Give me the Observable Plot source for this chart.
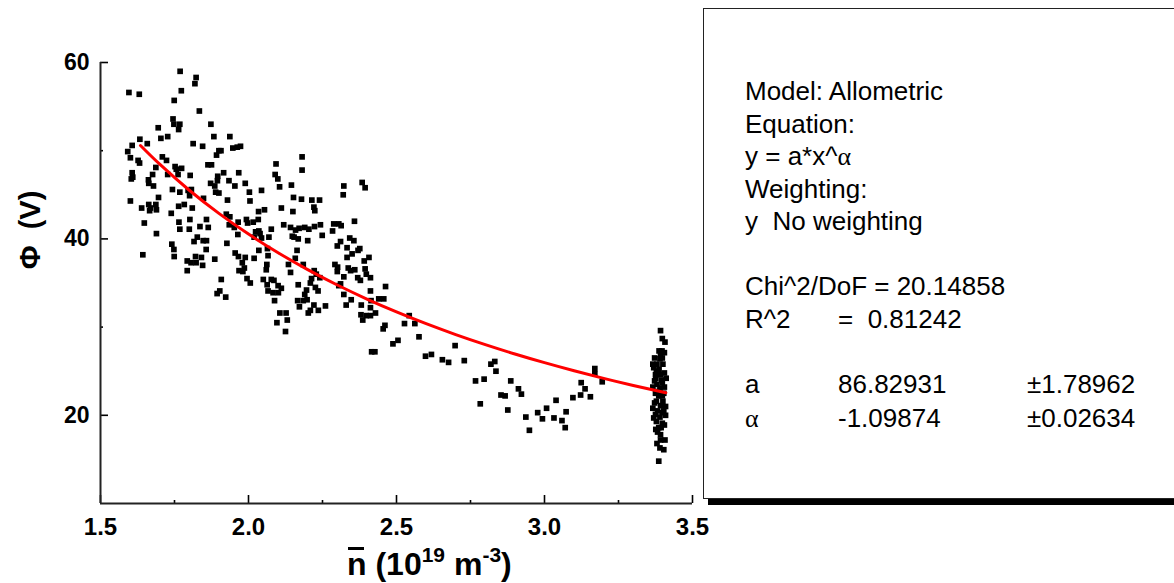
<!DOCTYPE html>
<html>
<head>
<meta charset="utf-8">
<script src="https://cdn.jsdelivr.net/npm/d3@7"></script>
<script src="https://cdn.jsdelivr.net/npm/@observablehq/plot@0.6"></script>
<style>
  html, body { margin: 0; padding: 0; background: #fff; overflow: hidden; }
  #wrap { position: relative; width: 1174px; height: 583px; font-family: "Liberation Sans", Arial, sans-serif; color: #000; }
  #wrap svg { position: absolute; left: 0; top: 0; }
  .ytitle { position: absolute; left: 30px; top: 230px; transform: translate(-50%, -50%) rotate(-90deg); font-weight: bold; font-size: 29px; white-space: pre; }
  .xtitle { position: absolute; left: 347px; top: 548px; font-weight: bold; font-size: 32px; line-height: 32px; white-space: pre; }
  .xtitle sup { font-size: 21px; vertical-align: 0; position: relative; top: -13px; }
  .nbar { position: relative; display: inline-block; }
  .nbar::before { content: ""; position: absolute; left: 1px; right: 3px; top: -1px; height: 3px; background: #000; }
  .box { position: absolute; left: 703px; top: 8px; width: 520px; height: 489px; border: 1.5px solid #222; box-shadow: 5px 6px 0 0 #000; background: #fff; }
  .ln { position: absolute; font-size: 26px; line-height: 26px; white-space: pre; }
  .greek { font-family: "Liberation Serif", "DejaVu Serif", serif; }
</style>
</head>
<body>
<div id="wrap"></div>
<script>
// ---- data ----
const nBar = [
1.596,1.631,1.769,1.823,1.819,1.773,1.749,1.834,1.745,1.748,1.768,1.764,1.695,1.873,1.883,1.937,1.727,1.704,1.633,1.658,
1.607,1.813,1.845,1.947,1.962,1.973,1.907,1.592,1.627,1.601,1.632,1.709,1.723,1.687,1.752,1.774,1.756,1.727,1.762,1.676,
1.803,1.863,1.875,1.892,1.900,1.967,1.916,1.896,1.895,1.934,1.954,1.989,2.044,2.003,2.005,1.929,2.093,2.090,2.099,2.105,
2.145,2.181,2.181,1.889,1.900,1.886,1.607,1.609,1.604,1.662,1.679,1.663,1.696,1.743,1.768,1.796,1.807,1.801,1.601,1.639,
1.663,1.669,1.689,1.666,1.687,1.739,1.764,1.783,1.810,1.848,1.872,2.034,2.054,2.111,2.152,2.150,2.179,2.214,2.221,2.224,
2.240,1.648,1.689,1.765,1.768,1.802,1.800,1.836,1.858,1.864,1.816,1.827,1.847,1.858,1.925,1.937,1.935,1.965,1.952,1.964,
1.993,1.997,2.016,2.033,2.024,2.035,2.039,2.019,2.044,2.069,2.077,2.119,2.142,2.148,2.159,2.154,2.171,2.168,2.190,2.204,
2.200,2.223,2.243,2.249,2.284,2.288,2.305,2.313,2.358,2.300,2.311,2.333,2.342,2.356,2.370,2.376,2.350,2.333,2.320,2.322,
2.384,2.394,2.407,2.463,1.741,1.748,1.749,1.643,1.793,1.821,1.806,1.823,1.845,1.841,1.886,1.857,1.793,1.927,1.955,1.966,
1.989,1.979,1.986,1.968,1.981,1.995,2.006,2.019,2.035,2.064,2.066,2.062,2.060,2.050,2.063,2.077,2.086,2.066,2.083,2.100,
2.101,2.111,2.135,2.142,2.158,2.164,2.185,2.213,2.229,2.222,2.209,2.226,2.241,2.196,2.190,2.168,2.198,2.235,2.292,2.301,
2.300,2.322,2.337,2.345,2.359,2.369,2.378,2.394,2.398,2.391,2.412,2.305,2.322,2.311,2.412,2.440,2.457,1.908,1.923,1.903,
1.894,
2.088,2.106,2.127,2.096,2.131,2.125,2.166,2.185,2.172,2.202,2.209,2.221,2.236,2.260,2.330,2.347,2.381,2.380,2.386,2.398,
2.412,2.429,2.412,2.414,2.461,2.455,2.416,2.427,2.488,2.505,
2.527,2.543,2.562,2.576,2.598,2.618,2.655,2.676,2.698,2.729,2.767,2.796,2.783,2.819,2.832,2.836,2.853,2.867,2.876,2.886,
2.912,2.922,2.937,2.949,2.977,2.993,3.007,3.032,3.039,3.059,3.070,3.073,3.096,3.122,3.124,3.137,3.155,3.170,3.170,3.195,
3.392,3.398,3.407,3.387,3.392,3.390,3.398,3.366,3.369,3.380,3.400,3.387,3.375,3.392,3.411,3.372,3.380,3.398,3.390,3.375,
3.403,3.386,3.378,3.400,3.392,3.366,3.382,3.403,3.375,3.409,3.390,3.378,3.398,3.386,3.382,3.392,3.407,3.392,3.380,3.403,
3.386,3.372,3.405,3.376,3.405,3.395,3.366,3.405,3.398,3.372,3.409,3.398,3.369,3.394,3.376,3.390,3.397,3.380,3.405,3.378
];
const phi = [
56.6,56.4,59.0,58.3,57.6,56.8,55.7,54.5,53.6,53.0,53.0,52.4,52.6,53.0,51.6,51.6,51.6,51.4,51.3,50.8,
50.6,50.8,50.5,50.3,50.4,50.5,50.0,49.9,48.9,49.2,48.6,49.3,48.9,48.1,48.2,48.0,47.9,47.3,47.3,47.3,
47.2,48.4,48.4,49.5,50.0,47.5,47.5,47.1,46.6,46.6,46.0,46.3,45.5,45.3,44.3,44.4,48.5,47.3,46.8,45.9,
46.1,49.3,47.8,45.3,45.2,46.0,47.5,47.0,46.8,46.7,46.0,46.3,44.7,45.6,45.3,45.5,45.6,44.9,44.3,43.5,
43.9,43.5,43.3,43.2,43.9,42.9,43.7,43.9,43.5,44.6,46.3,43.1,43.3,43.5,44.7,43.1,44.5,44.4,43.6,43.2,
44.4,41.8,40.6,41.9,41.1,42.2,41.1,41.4,42.2,41.3,39.7,40.2,39.8,39.8,42.8,42.5,41.6,41.9,41.3,40.5,
42.2,41.8,41.9,42.2,40.8,40.9,40.6,40.2,40.1,40.2,41.1,41.6,41.3,40.3,41.0,40.2,41.2,40.0,41.3,41.1,
39.8,41.4,41.6,40.4,40.9,41.7,41.7,41.5,42.0,39.2,39.7,39.0,40.1,39.8,38.7,38.9,38.3,37.9,45.0,46.0,
46.4,45.8,37.9,34.6,39.4,38.8,38.0,38.2,37.5,38.0,37.3,37.3,37.0,37.9,37.7,38.8,36.4,39.5,38.4,38.0,
37.9,37.3,36.7,36.4,36.3,35.5,35.0,37.8,38.7,38.9,38.1,37.1,36.5,35.4,34.8,35.4,35.3,34.1,33.9,34.7,
33.9,34.4,37.1,36.2,37.8,38.7,37.1,35.5,36.0,36.4,35.0,34.5,35.6,34.2,33.7,34.8,33.1,34.1,37.1,36.8,
36.3,35.7,36.7,36.4,36.5,35.6,35.3,36.6,36.0,37.5,35.6,34.7,33.7,34.9,34.1,33.2,33.2,35.4,33.4,34.1,
33.8,
33.0,31.6,31.6,30.5,30.8,29.5,33.0,33.0,32.3,31.6,31.9,32.5,31.9,32.4,32.5,33.1,32.5,31.4,30.8,31.3,
31.3,31.6,32.2,33.0,30.2,29.8,27.2,27.2,28.1,28.5,
30.4,31.3,30.4,28.9,26.7,26.9,26.3,26.0,27.9,26.2,23.9,24.1,21.3,25.8,26.1,25.0,22.3,22.2,20.6,23.9,
23.0,22.4,19.8,18.3,20.3,19.6,20.8,19.7,21.7,19.4,18.6,20.4,22.0,22.3,23.7,23.0,22.1,25.3,24.7,23.8,
29.6,28.7,28.3,27.3,26.9,26.4,26.5,25.8,25.4,25.8,25.8,25.2,24.6,24.6,24.2,23.9,23.5,23.7,23.1,22.5,
22.5,22.2,21.6,21.6,21.1,20.8,20.5,20.5,20.1,20.0,19.8,19.3,19.1,18.6,18.1,17.8,17.2,17.2,16.8,16.1,
14.8,26.5,27.1,24.2,24.8,24.0,23.2,23.2,22.2,21.4,21.0,20.3,19.7,18.6,18.4,16.3,27.3,22.7,18.9,25.0
];
// Allometric fit parameters (from the fit report)
const fitA = 86.82931;
const fitAlpha = -1.09874;
const fitXs = [1.635,1.7,1.8,1.9,2.0,2.1,2.2,2.3,2.4,2.5,2.6,2.7,2.8,2.9,3.0,3.1,3.2,3.3,3.41];
const xMajor = [1.5, 2.0, 2.5, 3.0, 3.5];
const xMinor = [1.75, 2.25, 2.75, 3.25];
const yMajor = [20, 40, 60];
const yMinor = [30, 50];

const points = nBar.map((x, i) => ({x, y: phi[i]}));
const fit = fitXs.map(x => ({x, y: fitA * Math.pow(x, fitAlpha)}));

const chart = Plot.plot({
  width: 1174,
  height: 583,
  marginLeft: 100,
  marginRight: 482,
  marginTop: 62,
  marginBottom: 80,
  x: {domain: [1.5, 3.5]},
  y: {domain: [10, 60]},
  style: {fontFamily: "'Liberation Sans', Arial, sans-serif", color: "#000", background: "transparent", overflow: "visible"},
  marks: [
    Plot.axisX(xMajor, {tickSize: -8, tickPadding: 22, tickFormat: d3.format(".1f"), fontSize: 24, fontWeight: "bold", strokeWidth: 1.6, label: null}),
    Plot.axisX(xMinor, {tickSize: -3, tickFormat: () => "", strokeWidth: 1.6, label: null}),
    Plot.axisY(yMajor, {tickSize: -8, tickPadding: 19, tickFormat: d3.format("d"), fontSize: 23, fontWeight: "bold", strokeWidth: 1.6, label: null}),
    Plot.axisY(yMinor, {tickSize: -3, tickFormat: () => "", strokeWidth: 1.6, label: null}),
    Plot.ruleY([10], {stroke: "#222", strokeWidth: 2}),
    Plot.ruleX([1.5], {stroke: "#222", strokeWidth: 2}),
    Plot.dot(points, {x: "x", y: "y", symbol: "square", r: 3.2, fill: "#000", stroke: null}),
    Plot.line(fit, {x: "x", y: "y", stroke: "#ff0000", strokeWidth: 3, curve: "catmull-rom"})
  ]
});

const wrap = document.getElementById("wrap");
wrap.appendChild(chart);

function add(html, cls, style) {
  const d = document.createElement("div");
  d.className = cls;
  d.innerHTML = html;
  if (style) d.setAttribute("style", style);
  wrap.appendChild(d);
  return d;
}
add("\u03A6  (V)", "ytitle");
add("<span class='nbar'>n</span> (10<sup>19</sup> m<sup>-3</sup>)", "xtitle");
add("", "box");
const L = 745;
add("Model: Allometric", "ln", `left:${L}px;top:78px`);
add("Equation:", "ln", `left:${L}px;top:111px`);
add("y = a*x^<span class='greek'>\u03B1</span>", "ln", `left:${L}px;top:143px`);
add("Weighting:", "ln", `left:${L}px;top:176px`);
add("y  No weighting", "ln", `left:${L}px;top:208px`);
add("Chi^2/DoF = 20.14858", "ln", `left:${L}px;top:273px`);
add("R^2", "ln", `left:${L}px;top:306px`);
add("=  0.81242", "ln", `left:838px;top:306px`);
add("a", "ln", `left:${L}px;top:371px`);
add("86.82931", "ln", `left:838px;top:371px`);
add("\u00B11.78962", "ln", `left:1027px;top:371px`);
add("<span class='greek'>\u03B1</span>", "ln", `left:${L}px;top:405px`);
add("-1.09874", "ln", `left:838px;top:405px`);
add("\u00B10.02634", "ln", `left:1027px;top:405px`);
</script>
</body>
</html>
